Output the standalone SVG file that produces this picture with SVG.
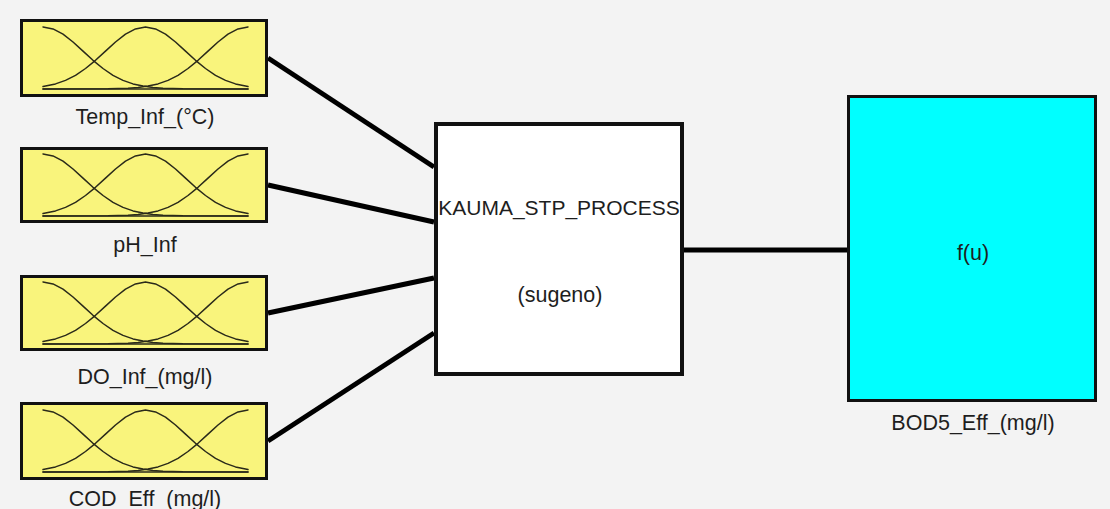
<svg xmlns="http://www.w3.org/2000/svg" width="1110" height="509" viewBox="0 0 1110 509">
  <style>
    .bg { fill: #f3f3f3; }
    .mf-box { fill: #f9f47c; stroke: #111; stroke-width: 3; }
    .mf { fill: none; stroke: #2a2a1a; stroke-width: 1.5; stroke-linejoin: round; stroke-linecap: round; }
    .fis { fill: #ffffff; stroke: #111; stroke-width: 4; }
    .out { fill: #00ffff; stroke: #111; stroke-width: 3; }
    .lbl { font-family: "Liberation Sans", Arial, sans-serif; font-size: 21.5px; fill: #1e1e1e; text-anchor: middle; }
    .title { font-size: 21px; }
    .wire { stroke: #000; stroke-width: 5; fill: none; stroke-linecap: butt; }
  </style>
  <defs>
    <!-- three gaussian membership functions on a 205 x 62 plot area -->
    <g id="mfs">
      <polyline class="mf" points="0,0 10,1.9 20,7.2 30,15 40,24.1 50,33.3 60,41.5 70,48.3 80,53.4 90,56.9 100,59.1 110,60.5 120,61.3 140,61.85 205,62"/>
      <polyline class="mf" points="0,59.6 2.5,59.1 12.5,56.9 22.5,53.4 32.5,48.3 42.5,41.5 52.5,33.3 62.5,24.1 72.5,15 82.5,7.2 92.5,1.9 102.5,0 112.5,1.9 122.5,7.2 132.5,15 142.5,24.1 152.5,33.3 162.5,41.5 172.5,48.3 182.5,53.4 192.5,56.9 202.5,59.1 205,59.6"/>
      <polyline class="mf" points="205,0 195,1.9 185,7.2 175,15 165,24.1 155,33.3 145,41.5 135,48.3 125,53.4 115,56.9 105,59.1 95,60.5 85,61.3 65,61.85 0,62"/>
      <line class="mf" x1="0" y1="62" x2="205" y2="62"/>
    </g>
  </defs>

  <rect class="bg" x="0" y="0" width="1110" height="509"/>

  <!-- connectors -->
  <g id="connectors">
    <line class="wire" x1="268" y1="58" x2="434" y2="167"/>
    <line class="wire" x1="268" y1="185" x2="434" y2="222"/>
    <line class="wire" x1="268" y1="313" x2="434" y2="278"/>
    <line class="wire" x1="268" y1="441" x2="434" y2="333"/>
    <line class="wire" x1="684" y1="250" x2="847" y2="250"/>
  </g>

  <!-- input variables -->
  <g id="temp_inf">
    <rect class="mf-box" x="21.5" y="20.5" width="245" height="75"/>
    <use href="#mfs" x="43" y="27"/>
    <text class="lbl" x="145" y="124">Temp_Inf_(°C)</text>
  </g>
  <g id="ph_inf">
    <rect class="mf-box" x="21.5" y="148.5" width="245" height="73"/>
    <use href="#mfs" x="43" y="154"/>
    <text class="lbl" x="145" y="252">pH_Inf</text>
  </g>
  <g id="do_inf">
    <rect class="mf-box" x="21.5" y="276.5" width="245" height="73"/>
    <use href="#mfs" x="43" y="282"/>
    <text class="lbl" x="145" y="384">DO_Inf_(mg/l)</text>
  </g>
  <g id="cod_eff">
    <rect class="mf-box" x="21.5" y="403.5" width="245" height="75"/>
    <use href="#mfs" x="43" y="410"/>
    <text class="lbl" x="145" y="506">COD_Eff_(mg/l)</text>
  </g>

  <!-- inference system -->
  <g id="fis">
    <rect class="fis" x="436" y="124" width="246" height="250"/>
    <text class="lbl title" x="559" y="215">KAUMA_STP_PROCESS</text>
    <text class="lbl" x="560" y="302">(sugeno)</text>
  </g>

  <!-- output variable -->
  <g id="bod5_eff">
    <rect class="out" x="848.5" y="96.5" width="247" height="304"/>
    <text class="lbl" x="973" y="260">f(u)</text>
    <text class="lbl" x="973" y="430">BOD5_Eff_(mg/l)</text>
  </g>
</svg>
